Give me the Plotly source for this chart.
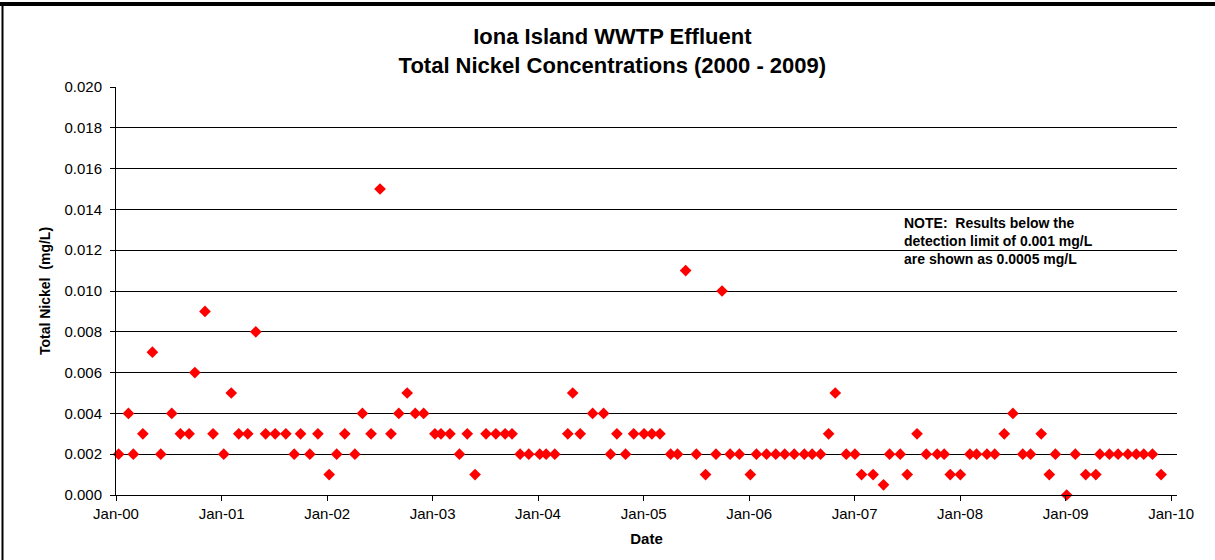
import plotly.graph_objects as go

# ---- data ----
sample_dates = [
    "2000-01-10", "2000-02-13", "2000-03-01", "2000-04-03", "2000-05-06", "2000-06-04",
    "2000-07-12", "2000-08-11", "2000-09-10", "2000-09-30", "2000-11-04", "2000-12-02",
    "2001-01-08", "2001-02-03", "2001-03-01", "2001-04-01", "2001-04-29", "2001-06-02",
    "2001-07-05", "2001-08-11", "2001-09-09", "2001-10-01", "2001-11-02", "2001-11-30",
    "2002-01-08", "2002-02-03", "2002-03-03", "2002-04-07", "2002-05-03", "2002-06-02",
    "2002-07-03", "2002-08-10", "2002-09-06", "2002-10-05", "2002-11-02", "2002-12-01",
    "2003-01-09", "2003-01-30", "2003-03-02", "2003-04-04", "2003-05-01", "2003-05-28",
    "2003-07-05", "2003-08-08", "2003-09-09", "2003-10-03", "2003-10-31", "2003-11-30",
    "2004-01-07", "2004-01-29", "2004-02-28", "2004-04-13", "2004-04-30", "2004-05-26",
    "2004-07-08", "2004-08-15", "2004-09-08", "2004-09-30", "2004-10-30", "2004-11-27",
    "2005-01-02", "2005-01-29", "2005-02-26", "2005-04-04", "2005-04-28", "2005-05-26",
    "2005-07-02", "2005-08-03", "2005-09-08", "2005-09-29", "2005-10-27", "2005-11-28",
    "2006-01-05", "2006-01-26", "2006-03-02", "2006-04-03", "2006-05-04", "2006-06-06",
    "2006-07-11", "2006-08-07", "2006-09-05", "2006-10-03", "2006-10-26", "2006-12-03",
    "2007-01-02", "2007-01-25", "2007-03-06", "2007-04-11", "2007-05-02", "2007-06-08",
    "2007-07-02", "2007-08-05", "2007-09-06", "2007-10-14", "2007-11-07", "2007-11-28",
    "2008-01-02", "2008-02-04", "2008-02-27", "2008-04-03", "2008-04-30", "2008-06-02",
    "2008-07-02", "2008-08-05", "2008-09-01", "2008-10-08", "2008-11-05", "2008-11-26",
    "2009-01-04", "2009-02-03", "2009-03-11", "2009-04-15", "2009-04-29", "2009-06-01",
    "2009-07-01", "2009-08-04", "2009-09-02", "2009-09-28", "2009-10-28", "2009-11-27",
]
nickel_mg_l = [
    0.002, 0.004, 0.002, 0.003, 0.007, 0.002,
    0.004, 0.003, 0.003, 0.006, 0.009, 0.003,
    0.002, 0.005, 0.003, 0.003, 0.008, 0.003,
    0.003, 0.003, 0.002, 0.003, 0.002, 0.003,
    0.001, 0.002, 0.003, 0.002, 0.004, 0.003,
    0.015, 0.003, 0.004, 0.005, 0.004, 0.004,
    0.003, 0.003, 0.003, 0.002, 0.003, 0.001,
    0.003, 0.003, 0.003, 0.003, 0.002, 0.002,
    0.002, 0.002, 0.002, 0.003, 0.005, 0.003,
    0.004, 0.004, 0.002, 0.003, 0.002, 0.003,
    0.003, 0.003, 0.003, 0.002, 0.002, 0.011,
    0.002, 0.001, 0.002, 0.010, 0.002, 0.002,
    0.001, 0.002, 0.002, 0.002, 0.002, 0.002,
    0.002, 0.002, 0.002, 0.003, 0.005, 0.002,
    0.002, 0.001, 0.001, 0.0005, 0.002, 0.002,
    0.001, 0.003, 0.002, 0.002, 0.002, 0.001,
    0.001, 0.002, 0.002, 0.002, 0.002, 0.003,
    0.004, 0.002, 0.002, 0.003, 0.001, 0.002,
    0.000, 0.002, 0.001, 0.001, 0.002, 0.002,
    0.002, 0.002, 0.002, 0.002, 0.002, 0.001,
]
tick_dates = ["2000-01-01", "2001-01-01", "2002-01-01", "2003-01-01", "2004-01-01",
              "2005-01-01", "2006-01-01", "2007-01-01", "2008-01-01", "2009-01-01",
              "2010-01-01"]
tick_labels = ["Jan-00", "Jan-01", "Jan-02", "Jan-03", "Jan-04", "Jan-05",
               "Jan-06", "Jan-07", "Jan-08", "Jan-09", "Jan-10"]
y_ticks = [0.000, 0.002, 0.004, 0.006, 0.008, 0.010, 0.012, 0.014, 0.016, 0.018, 0.020]

title_lines = ["Iona Island WWTP Effluent", "Total Nickel Concentrations (2000 - 2009)"]
note_lines = ["NOTE:  Results below the", "detection limit of 0.001 mg/L",
              "are shown as 0.0005 mg/L"]

# ---- layout constants ----
W, H = 1215, 560
ML, MR, MT, MB = 116, 38, 87, 65
PW, PH = W - ML - MR, H - MT - MB
FONT = "Liberation Sans, Arial, sans-serif"


def px_x(p):
    return (p - ML) / PW


def px_y(p):
    return (H - MB - p) / PH


fig = go.Figure()
fig.add_trace(go.Scatter(
    x=sample_dates, y=nickel_mg_l, mode="markers",
    marker=dict(symbol="diamond", size=9, color="#ff0000",
                line=dict(width=0)),
    showlegend=False, cliponaxis=False,
))

fig.update_layout(
    width=W, height=H,
    margin=dict(l=ML, r=MR, t=MT, b=MB, autoexpand=False),
    paper_bgcolor="white", plot_bgcolor="white",
    font=dict(family=FONT, color="black", size=15),
    title=dict(text="<b>" + "<br>".join(title_lines) + "</b>",
               x=0.504, xref="container", xanchor="center",
               y=1 - 44 / H, yref="container", yanchor="middle",
               font=dict(size=22, family=FONT, color="black")),
    xaxis=dict(
        type="date", range=["2000-01-01", "2010-01-21"],
        tickvals=tick_dates, ticktext=tick_labels,
        ticks="outside", ticklen=5, tickcolor="black",
        showline=True, linecolor="black", linewidth=1,
        showgrid=False, zeroline=False,
        tickfont=dict(size=15, family=FONT),
        title=dict(text="<b>Date</b>", standoff=12,
                   font=dict(size=15, family=FONT)),
    ),
    yaxis=dict(
        range=[0, 0.020], tickvals=y_ticks, tickformat=".3f",
        ticks="outside", ticklen=5, tickcolor="black",
        ticklabelstandoff=5,
        showline=True, linecolor="black", linewidth=1,
        showgrid=True, gridcolor="black", gridwidth=1,
        zeroline=False,
        tickfont=dict(size=15, family=FONT),
        title=dict(text="<b>Total Nickel  (mg/L)</b>", standoff=10,
                   font=dict(size=14, family=FONT)),
    ),
    annotations=[dict(
        text="<b>" + "<br>".join(note_lines) + "</b>",
        xref="paper", yref="paper", x=px_x(902), y=px_y(213),
        xanchor="left", yanchor="top", align="left", showarrow=False,
        font=dict(size=14, family=FONT, color="black"),
    )],
    shapes=[
        dict(type="rect", xref="paper", yref="paper",
             x0=px_x(0), x1=px_x(W), y0=px_y(6), y1=px_y(2),
             fillcolor="black", line=dict(width=0), layer="above"),
        dict(type="rect", xref="paper", yref="paper",
             x0=px_x(1.5), x1=px_x(3.5), y0=px_y(H), y1=px_y(2),
             fillcolor="black", line=dict(width=0), layer="above"),
    ],
)

fig.write_html("out.html",
               config={"displayModeBar": False},
               post_script="document.body.style.margin='0';"
                           "document.body.style.overflow='hidden';")
